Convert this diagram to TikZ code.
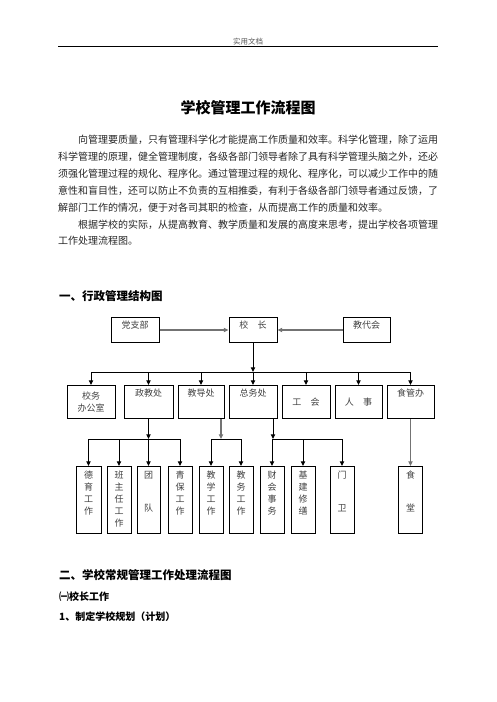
\documentclass[tikz,border=0pt]{standalone}
\usepackage{fontspec}
\setmainfont{Noto Sans CJK SC}
\usetikzlibrary{arrows.meta}
\newcommand\fsz[1]{\fontsize{#1}{#1}\selectfont}
\def\vcharloop#1{\ifx\relax#1\else\hbox to 10pt{\hss#1\hss}\expandafter\vcharloop\fi}
\newcommand\vchars[2]{\vbox to 67pt{\baselineskip=#1\lineskiplimit=-50pt\lineskip=0pt\hbox{}\vskip\dimexpr 12.4pt-#1\relax\vcharloop#2\relax\vfill}}
\begin{document}
\begin{tikzpicture}[x=1pt,y=-1pt,
  box/.style={draw, line width=1pt, inner sep=0pt, rectangle, font=\fsz{9pt}, text=black!75},
  topbox/.style={box, anchor=north, text height=11.4pt, text depth=13.6pt},
  midbox/.style={box, anchor=north, text height=11.4pt, text depth=21.6pt},
  midc/.style={box, anchor=north, minimum height=33pt, align=center, font=\fontsize{9pt}{12pt}\selectfont},
  lowbox/.style={box, anchor=north, minimum width=24pt},
  arr/.style={-{Triangle[length=4.6pt,width=4.2pt]}, line width=1pt},
  garr/.style={arr, draw=black!55, line width=1.1pt},
  harr/.style={-{Triangle[length=4.6pt,width=4.2pt]}, draw=black!55, line width=1.7pt},
  bus/.style={line width=1pt},
  txt/.style={inner sep=0pt},
  para/.style={txt, anchor=west, font=\fsz{10pt}, text=black!85}]
\useasboundingbox (0,0) rectangle (496,702);

% header
\node[txt, font=\fsz{7.5pt}, text=black!65] (hdr) at (248,41.5) {实用文档};
\draw[line width=1pt] (58,46) -- (438,46);

% title
\node[txt, font=\fsz{15pt}\bfseries] (title) at (248,108) {学校管理工作流程图};

% paragraph
\node[para] (p1) at (78,140) {向管理要质量，只有管理科学化才能提高工作质量和效率。科学化管理，除了运用};
\node[para] (p2) at (58,157) {科学管理的原理，健全管理制度，各级各部门领导者除了具有科学管理头脑之外，还必};
\node[para] (p3) at (58,174) {须强化管理过程的规化、程序化。通过管理过程的规化、程序化，可以减少工作中的随};
\node[para] (p4) at (58,191) {意性和盲目性，还可以防止不负责的互相推委，有利于各级各部门领导者通过反馈，了};
\node[para] (p5) at (58,208) {解部门工作的情况，便于对各司其职的检查，从而提高工作的质量和效率。};
\node[para] (p6) at (78,224.5) {根据学校的实际，从提高教育、教学质量和发展的高度来思考，提出学校各项管理};
\node[para] (p7) at (58,241) {工作处理流程图。};

% section 1
\node[txt, anchor=west, font=\fsz{11.5pt}\bfseries] (s1) at (59,296) {一、行政管理结构图};

% top row
\node[topbox, minimum width=48pt] (dzb) at (135,317) {党支部};
\node[topbox, minimum width=48pt] (xz) at (253,317) {校\hspace{9.5pt}长};
\node[topbox, minimum width=47pt] (jdh) at (366.5,317) {教代会};
\draw[harr] (dzb) -- (xz);
\draw[harr] (jdh) -- (xz);

% middle row
\node[midc, minimum width=48pt] (xw) at (91,385) {校务\\办公室};
\node[midbox, minimum width=49pt] (zj) at (148.5,385) {政教处};
\node[midbox, minimum width=46pt] (jd) at (201,385) {教导处};
\node[midbox, minimum width=48pt] (zw) at (253,385) {总务处};
\node[midc, minimum width=48pt] (gh) at (306,385) {工\hspace{9.5pt}会};
\node[midc, minimum width=47pt] (rs) at (358.5,385) {人\hspace{9.5pt}事};
\node[midbox, minimum width=47pt] (sg) at (410.5,385) {食管办};

\coordinate (bL) at (91,372);
\coordinate (bR) at (410.5,372);
\draw[bus] (bL) -- (bR);
\draw[arr] (xz.south) -- (xz.south |- bL);
\foreach \n in {xw,zj,jd,zw,gh,rs,sg} \draw[arr] (\n.north |- bL) -- (\n.north);

% bottom row
\node[lowbox, minimum width=25pt] (dy) at (88.5,466) {\vchars{11.7pt}{德育工作}};
\node[lowbox] (bzr) at (119,466) {\vchars{11.8pt}{班主任工作}};
\node[lowbox, minimum width=23pt] (td) at (148.5,466) {\vchars{33pt}{团队}};
\node[lowbox] (qb) at (180,466) {\vchars{11.7pt}{青保工作}};
\node[lowbox] (jx) at (211,466) {\vchars{11.7pt}{教学工作}};
\node[lowbox] (jw) at (241,466) {\vchars{11.7pt}{教务工作}};
\node[lowbox] (ck) at (272,466) {\vchars{11.7pt}{财会事务}};
\node[lowbox] (jj) at (303,466) {\vchars{11.7pt}{基建修缮}};
\node[lowbox] (mw) at (342,466) {\vchars{33pt}{门卫}};
\node[lowbox] (st) at (410.5,466) {\vchars{33pt}{食堂}};

% 政教处 branch
\coordinate (c1) at (148.5,439);
\draw[arr] (zj.south) -- (c1);
\draw[bus] (dy.north |- c1) -- (qb.north |- c1);
\foreach \n in {dy,bzr,td,qb} \draw[arr] (\n.north |- c1) -- (\n.north);

% 教导处 branch
\coordinate (t2) at (221,439);
\draw[garr] (jd.south -| t2) -- (t2);
\draw[bus] (jx.north |- t2) -- (jw.north |- t2);
\foreach \n in {jx,jw} \draw[arr] (\n.north |- t2) -- (\n.north);

% 总务处 branch
\coordinate (t3) at (273,439);
\draw[arr] (zw.south -| t3) -- (t3);
\draw[bus] (ck.north |- t3) -- (mw.north |- t3);
\foreach \n in {ck,jj,mw} \draw[arr] (\n.north |- t3) -- (\n.north);

% 食管办 -> 食堂
\draw[garr] (sg.south) -- (st.north);

% section 2
\node[txt, anchor=west, font=\fsz{11.5pt}\bfseries] (s2) at (59,575) {二、学校常规管理工作处理流程图};
\node[txt, anchor=west, font=\fsz{10pt}\bfseries] (s3) at (59,597) {㈠校长工作};
\node[txt, anchor=west, font=\fsz{10pt}\bfseries] (s4) at (59,617) {1、制定学校规划（计划）};
\end{tikzpicture}
\end{document}
